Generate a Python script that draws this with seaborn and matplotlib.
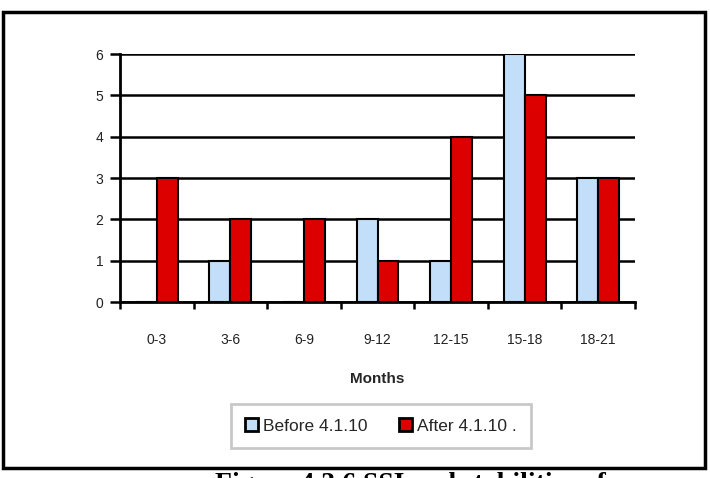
import matplotlib
matplotlib.use("Agg")
import matplotlib.pyplot as plt
from matplotlib.patches import Rectangle
import seaborn as sns
import pandas as pd
import numpy as np

categories = ["0-3", "3-6", "6-9", "9-12", "12-15", "15-18", "18-21"]
before = [0, 1, 0, 2, 1, 6, 3]
after = [3, 2, 2, 1, 4, 5, 3]
series_names = ["Before 4.1.10", "After 4.1.10 ."]
y_ticks = [0, 1, 2, 3, 4, 5, 6]

df = pd.DataFrame({
    "Months": categories * 2,
    "Count": before + after,
    "Series": [series_names[0]] * len(categories) + [series_names[1]] * len(categories),
})

sns.set_theme(style="white")
plt.rcParams["font.family"] = ["Liberation Sans", "DejaVu Sans"]

fig = plt.figure(figsize=(7.10, 4.78), dpi=100)
ax = fig.add_axes([120 / 710, 1 - 302 / 478, (635 - 120) / 710, (302 - 54) / 478])

sns.barplot(data=df, x="Months", y="Count", hue="Series",
            palette=["#C2DEF8", "#DC0000"], saturation=1, edgecolor="black",
            linewidth=1.5, width=0.57, ax=ax, zorder=3)

ax.set_ylim(0, 6)
ax.set_xlim(-0.5, len(categories) - 0.5)
ax.set_yticks(y_ticks)
ax.yaxis.grid(True, color="black", linewidth=1.8, zorder=0)
ax.set_axisbelow(True)
for s in ["top", "right"]:
    ax.spines[s].set_visible(False)
for s in ["left", "bottom"]:
    ax.spines[s].set_color("black")
    ax.spines[s].set_linewidth(2)

ax.tick_params(axis="y", which="major", left=True, length=7, width=1.8,
               color="black", labelsize=10, pad=5, labelcolor="#222222")
ax.tick_params(axis="x", which="major", bottom=False, length=0, labelsize=10,
               pad=22, labelcolor="#222222")
ax.set_xticks(np.arange(-0.5, len(categories), 1.0), minor=True)
ax.tick_params(axis="x", which="minor", bottom=True, length=5, width=1.8,
               color="black", direction="out")

ax.set_xlabel("Months", fontsize=11, fontweight="bold", labelpad=18)
ax.set_ylabel("")

handles, labels = ax.get_legend_handles_labels()
ax.get_legend().remove()
leg = fig.legend(handles, labels, loc="center", bbox_to_anchor=(381 / 710, 1 - 426 / 478),
                 ncol=2, fontsize=12.5, frameon=True, fancybox=False,
                 handlelength=0.75, handleheight=0.75, handletextpad=0.3,
                 columnspacing=1.8, borderpad=0.8, edgecolor="#BBBBBB")
leg.get_frame().set_linewidth(2)
for h in leg.legend_handles:
    h.set_edgecolor("black")
    h.set_linewidth(2)

fig.patches.append(Rectangle((3 / 710, 1 - 468 / 478), 702 / 710, 456 / 478,
                             transform=fig.transFigure, fill=False,
                             edgecolor="black", linewidth=2.5))

# Caption below the frame, cut off by the bottom edge as in the reference
fig.text(215 / 710, 1 - 472 / 478, "Figure 4.3.6 SSI and stabilities of",
         family=["Liberation Serif", "DejaVu Serif"], fontweight="bold",
         fontsize=20, va="top", ha="left", color="black")

fig.savefig("out.png", dpi=100)
